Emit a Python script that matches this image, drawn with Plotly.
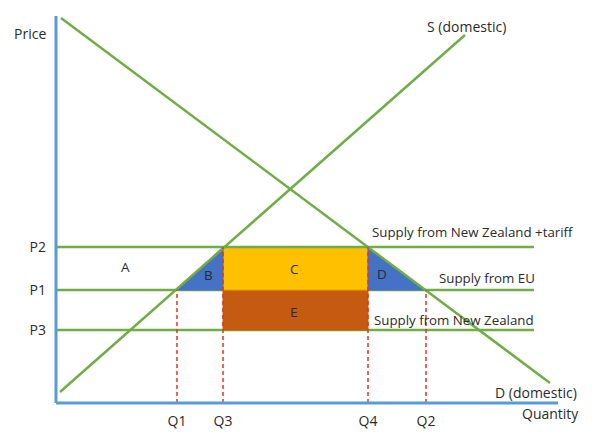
import plotly.graph_objects as go

# ---- data (arbitrary price / quantity units) ----
price_labels = ["P2", "P1", "P3"]
price_values = [156, 113, 73]          # P2, P1, P3
qty_labels = ["Q1", "Q3", "Q4", "Q2"]
qty_values = [121, 167, 312, 370]      # Q1, Q3, Q4, Q2
supply_x = [4, 409]                    # S (domestic) end points
supply_y = [11, 368]
demand_x = [5, 494]                    # D (domestic) end points
demand_y = [385, 20]
line_end = 478                         # right end of horizontal supply lines

P2, P1, P3 = price_values
Q1, Q3, Q4, Q2 = qty_values

GREEN = "#70AD47"
BLUE_AX = "#5B9BD5"
RED = "#E8302A"
TXT = "#2B2B2B"
FONT = "Open Sans"

fig = go.Figure()

def hline(y):
    fig.add_trace(go.Scatter(x=[0, line_end], y=[y, y], mode="lines",
                             line=dict(color=GREEN, width=2.5), hoverinfo="skip"))

# lower supply lines first
hline(P1)
hline(P3)

# areas
fig.add_trace(go.Scatter(x=[Q3, Q4, Q4, Q3, Q3], y=[P1, P1, P3, P3, P1], fill="toself",
                         fillcolor="#C55A11", mode="lines", line=dict(color="#C0600F", width=1),
                         hoverinfo="skip"))
fig.add_trace(go.Scatter(x=[Q3, Q4, Q4, Q3, Q3], y=[P2, P2, P1, P1, P2], fill="toself",
                         fillcolor="#FFC000", mode="lines", line=dict(color="#E0A800", width=1),
                         hoverinfo="skip"))
fig.add_trace(go.Scatter(x=[Q1, Q3, Q3, Q1], y=[P1, P2, P1, P1], fill="toself",
                         fillcolor="#4472C4", mode="lines", line=dict(color="#4472C4", width=1),
                         hoverinfo="skip"))
fig.add_trace(go.Scatter(x=[Q4, Q4, Q2, Q4], y=[P2, P1, P1, P2], fill="toself",
                         fillcolor="#4472C4", mode="lines", line=dict(color="#4472C4", width=1),
                         hoverinfo="skip"))

hline(P2)

# supply & demand
fig.add_trace(go.Scatter(x=supply_x, y=supply_y, mode="lines",
                         line=dict(color=GREEN, width=2.5), hoverinfo="skip"))
fig.add_trace(go.Scatter(x=demand_x, y=demand_y, mode="lines",
                         line=dict(color=GREEN, width=2.5), hoverinfo="skip"))

# dashed drop lines
drop_tops = [P1, P2, P2, P1]
for q, top in zip(qty_values, drop_tops):
    fig.add_trace(go.Scatter(x=[q, q], y=[0, top], mode="lines",
                             line=dict(color=RED, width=1.5, dash="4px,3px"), hoverinfo="skip"))

# axes lines
fig.add_trace(go.Scatter(x=[0, 0], y=[0, 387], mode="lines",
                         line=dict(color=BLUE_AX, width=3), hoverinfo="skip"))
fig.add_trace(go.Scatter(x=[0, 502], y=[0, 0], mode="lines",
                         line=dict(color=BLUE_AX, width=3), hoverinfo="skip"))

def label(x, y, text, xanchor="center", size=13, ref="data"):
    kw = dict(xref="paper", yref="paper") if ref == "paper" else {}
    fig.add_annotation(x=x, y=y, text=text, showarrow=False, xanchor=xanchor, yanchor="middle",
                       font=dict(family=FONT, size=size, color=TXT), **kw)

label(30, 33, "Price", size=14, ref="paper")
label(410, 377, "S (domestic)", size=14)
label(480, 11, "D (domestic)", size=14)
label(550, 413, "Quantity", size=14, ref="paper")
label(314, 171, "Supply from New Zealand +tariff", xanchor="left", size=13.3)
label(381, 125, "Supply from EU", xanchor="left", size=13.3)
label(316, 83, "Supply from New Zealand", xanchor="left", size=13.3)
label(69, 136, "A", size=13.5)
label(152, 128, "B", size=13.5)
label(238, 134, "C", size=13.5)
label(326, 129, "D", size=13.5)
label(238, 91, "E", size=13.5)

# convert paper-ref label positions given in page pixels
PL, PB, PW, PH = 54, 30, 538, 405
for ann in fig.layout.annotations:
    if ann.xref == "paper":
        ann.x = (ann.x - PL) / PW
        ann.y = (435 - PB - ann.y) / PH

fig.update_layout(
    width=592, height=435,
    margin=dict(l=PL, r=0, t=0, b=PB, pad=0),
    paper_bgcolor="white", plot_bgcolor="white",
    showlegend=False,
    xaxis=dict(range=[-2, 536], showgrid=False, zeroline=False, showline=False, automargin=False,
               tickvals=qty_values, ticktext=qty_labels, ticks="", ticklabelstandoff=6,
               tickfont=dict(family=FONT, size=14, color=TXT), fixedrange=True),
    yaxis=dict(range=[-2, 403], showgrid=False, zeroline=False, showline=False, automargin=False,
               tickvals=price_values, ticktext=price_labels, ticks="", ticklabelstandoff=7,
               tickfont=dict(family=FONT, size=14, color=TXT), fixedrange=True),
)

fig.write_html("out.html", config={"displayModeBar": False},
               post_script="document.body.style.margin='0';document.body.style.overflow='hidden';")
